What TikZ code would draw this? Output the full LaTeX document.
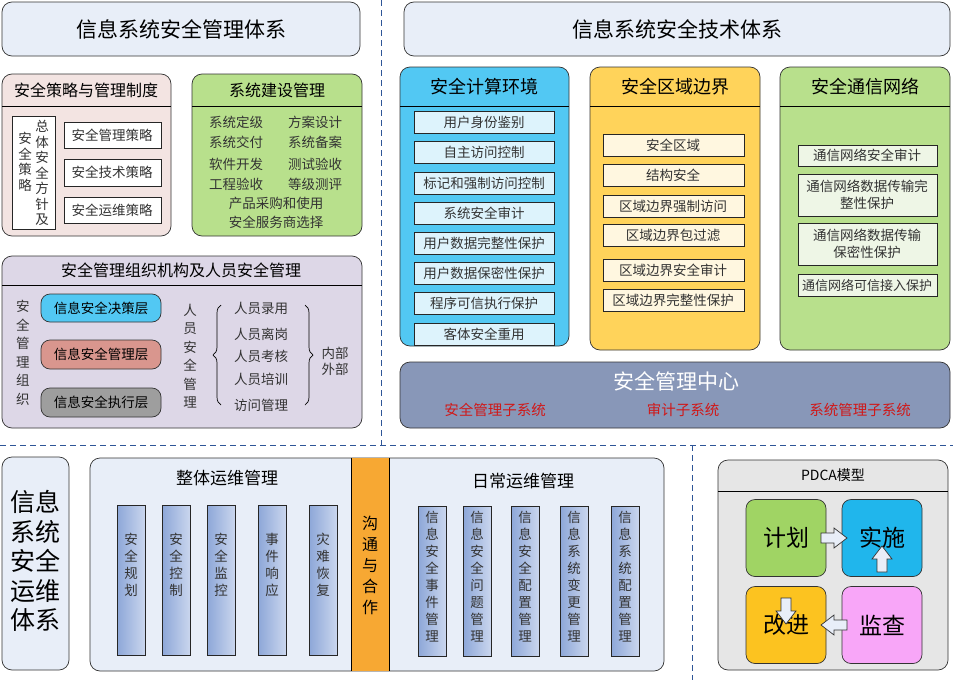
\documentclass[tikz,border=0pt]{standalone}
\usepackage{fontspec}
\setmainfont{Noto Sans CJK SC}
\usetikzlibrary{decorations.pathreplacing}
\definecolor{tbg}{HTML}{E8EEF8}
\definecolor{dline}{HTML}{2E5597}
\definecolor{pinkbg}{HTML}{F3E4E2}
\definecolor{grn}{HTML}{B8E08C}
\definecolor{lav}{HTML}{DDD7E7}
\definecolor{cy}{HTML}{52C8F3}
\definecolor{yl}{HTML}{FFD35A}
\definecolor{cyi}{HTML}{DDF3FC}
\definecolor{yli}{HTML}{FFF7E0}
\definecolor{gri}{HTML}{EEF6E6}
\definecolor{mgr}{HTML}{8897B8}
\definecolor{rd}{HTML}{D01818}
\definecolor{org}{HTML}{F7A833}
\definecolor{barL}{HTML}{8DA7D8}
\definecolor{barR}{HTML}{CAD6EE}
\definecolor{pdg}{HTML}{E6E6E6}
\begin{document}
\begin{tikzpicture}[x=1pt,y=-1pt,
  panel/.style={draw=black!80,line width=0.7pt,rounded corners=10pt},
  item/.style={draw=black!85,line width=0.7pt},
  t13/.style={font=\fontsize{13.5}{16}\selectfont,text=black!80},
  t15/.style={font=\fontsize{16}{19}\selectfont},
  vt/.style={font=\fontsize{13.5}{17}\selectfont,align=center,inner sep=0pt,text=black!80},
  bar/.style={draw=black!85,line width=0.7pt,left color=barL,right color=barR},
  pill/.style={draw=black!80,line width=0.7pt,rounded corners=9pt},
  pd/.style={draw=black!80,line width=0.7pt,rounded corners=9pt,minimum width=80pt,minimum height=77pt,font=\fontsize{23}{27}\selectfont},
  parrow/.pic={\path[draw=black!80,fill=tbg,line width=0.7pt] (0,-5) -- (13,-5) -- (13,-10) -- (26,0) -- (13,10) -- (13,5) -- (0,5) -- cycle;}]
\useasboundingbox (0,0) rectangle (953,680);
\fill[white] (0,0) rectangle (953,680);
% dashed separators
\draw[dline,line width=1pt,dash pattern=on 6pt off 4pt] (381,0) -- (381,445);
\draw[dline,line width=1pt,dash pattern=on 6pt off 4pt] (0,445) -- (953,445);
\draw[dline,line width=1pt,dash pattern=on 6pt off 4pt] (692,445) -- (692,680);
% titles
\draw[panel,fill=tbg] (2,2) rectangle (360,56);
\node[font=\fontsize{21}{25}\selectfont] (t1) at (181,29) {信息系统安全管理体系};
\draw[panel,fill=tbg] (404,2) rectangle (950,56);
\node[font=\fontsize{21}{25}\selectfont] (t2) at (677,29) {信息系统安全技术体系};
% policy box
\draw[panel,fill=pinkbg] (2,74) rectangle (171,236);
\draw[line width=0.7pt] (2,106) -- (171,106);
\node[t15] (p0) at (86,90) {安全策略与管理制度};
\draw[item,fill=white] (12,116) rectangle (55,229);
\node[vt,font=\fontsize{13.5}{15.5}\selectfont] (p1) at (42,173) {总\\体\\安\\全\\方\\针\\及};
\node[vt,font=\fontsize{13.5}{15.5}\selectfont] (p2) at (25,162) {安\\全\\策\\略};
\draw[item,fill=white] (64,122) rectangle (161,148);
\node[t13] (p3) at (112,135) {安全管理策略};
\draw[item,fill=white] (64,159) rectangle (161,186);
\node[t13] (p4) at (112,172) {安全技术策略};
\draw[item,fill=white] (64,197) rectangle (161,223);
\node[t13] (p5) at (112,210) {安全运维策略};
% construction
\draw[panel,fill=grn] (192,74) rectangle (362,236);
\draw[line width=0.7pt] (192,106) -- (362,106);
\node[t15] (c0) at (277,90) {系统建设管理};
\foreach \a/\b/\y [count=\i] in {系统定级/方案设计/122,系统交付/系统备案/142,软件开发/测试验收/164,工程验收/等级测评/184}{
  \node[t13] (ca\i) at (236,\y) {\a};
  \node[t13] (cb\i) at (315,\y) {\b};}
\node[t13] (c5) at (276,203) {产品采购和使用};
\node[t13] (c6) at (276,222) {安全服务商选择};
% org box
\draw[panel,fill=lav] (2,256) rectangle (362,428);
\draw[line width=0.7pt] (2,285) -- (362,285);
\node[t15] (o0) at (181,270) {安全管理组织机构及人员安全管理};
\node[vt,font=\fontsize{13.5}{18.5}\selectfont] (o1) at (23,353) {安\\全\\管\\理\\组\\织};
\draw[pill,fill=cy] (41,294) rectangle (161,322); \node[t13,text=black] (o2) at (101,308) {信息安全决策层};
\draw[pill,fill={rgb,255:red,217;green,150;blue,142}] (41,340) rectangle (161,369); \node[t13,text=black] (o3) at (101,354) {信息安全管理层};
\draw[pill,fill=black!38] (41,388) rectangle (161,417); \node[t13,text=black] (o4) at (101,402) {信息安全执行层};
\node[vt,font=\fontsize{13.5}{18.5}\selectfont] (o5) at (190,356) {人\\员\\安\\全\\管\\理};
\draw[decorate,decoration={brace,amplitude=8pt},line width=0.7pt] (221,405) -- (221,305);
\draw[decorate,decoration={brace,amplitude=8pt},line width=0.7pt] (305,305) -- (305,405);
\foreach \t/\y [count=\i] in {人员录用/308,人员离岗/334,人员考核/356,人员培训/379,访问管理/405}
  \node[t13] (op\i) at (261,\y) {\t};
\node[t13,align=center,font=\fontsize{13.5}{16}\selectfont] (o6) at (335,361) {内部\\外部};
% tech columns
\draw[panel,fill=cy] (400,67) rectangle (569,346);
\draw[line width=0.7pt] (400,106) -- (569,106);
\node[font=\fontsize{18}{21}\selectfont] (e0) at (484,87) {安全计算环境};
\foreach \t/\y [count=\i] in {用户身份鉴别/122,自主访问控制/152,标记和强制访问控制/183,系统安全审计/213,用户数据完整性保护/243,用户数据保密性保护/273,程序可信执行保护/303,客体安全重用/334}{
  \draw[item,fill=cyi] (414,\y-11) rectangle (554,\y+11);
  \node[t13] (e\i) at (484,\y) {\t};}
\draw[panel,fill=yl] (590,67) rectangle (760,350);
\draw[line width=0.7pt] (590,106) -- (760,106);
\node[font=\fontsize{18}{21}\selectfont] (b0) at (675,87) {安全区域边界};
\foreach \t/\y [count=\i] in {安全区域/145,结构安全/175,区域边界强制访问/206,区域边界包过滤/235,区域边界安全审计/270,区域边界完整性保护/300}{
  \draw[item,fill=yli] (603,\y-11) rectangle (744,\y+11);
  \node[t13] (b\i) at (673,\y) {\t};}
\draw[panel,fill=grn] (780,67) rectangle (950,350);
\draw[line width=0.7pt] (780,106) -- (950,106);
\node[font=\fontsize{18}{21}\selectfont] (n0) at (865,87) {安全通信网络};
\draw[item,fill=gri] (798,145) rectangle (937,166); \node[t13] (n1) at (867,155) {通信网络安全审计};
\draw[item,fill=gri] (798,174) rectangle (937,216); \node[t13,align=center,font=\fontsize{13.5}{17}\selectfont] (n2) at (867,195) {通信网络数据传输完\\整性保护};
\draw[item,fill=gri] (798,223) rectangle (937,265); \node[t13,align=center,font=\fontsize{13.5}{17}\selectfont] (n3) at (867,244) {通信网络数据传输\\保密性保护};
\draw[item,fill=gri] (798,274) rectangle (937,296); \node[t13,font=\fontsize{13}{16}\selectfont] (n4) at (867,285) {通信网络可信接入保护};
% mgmt center
\draw[panel,fill=mgr] (400,362) rectangle (950,428);
\node[font=\fontsize{21}{25}\selectfont,text=white] (m0) at (676,381) {安全管理中心};
\node[font=\fontsize{14.5}{17}\selectfont,text=rd] (m1) at (495,410) {安全管理子系统};
\node[font=\fontsize{14.5}{17}\selectfont,text=rd] (m2) at (683,410) {审计子系统};
\node[font=\fontsize{14.5}{17}\selectfont,text=rd] (m3) at (860,410) {系统管理子系统};
% ops
\draw[panel,fill=tbg] (2,457) rectangle (69,670);
\node[align=center,font=\fontsize{25}{29.5}\selectfont,inner sep=0] (s0) at (35,561) {信息\\系统\\安全\\运维\\体系};
\draw[panel,fill=tbg] (90,458) rectangle (664,671);
\fill[org] (351,458.35) rectangle (389,670.65);
\draw[line width=0.7pt] (351,458) -- (351,671) (389,458) -- (389,671);
\node[align=center,font=\fontsize{16}{21}\selectfont,inner sep=0] (s1) at (370,565) {沟\\通\\与\\合\\作};
\node[t15,font=\fontsize{17}{20}\selectfont] (s2) at (227,478) {整体运维管理};
\node[t15,font=\fontsize{17}{20}\selectfont] (s3) at (523,481) {日常运维管理};
\foreach \x/\t [count=\i] in {117/安\\全\\规\\划,162/安\\全\\控\\制,207/安\\全\\监\\控,258/事\\件\\响\\应,309/灾\\难\\恢\\复}{
  \draw[bar] (\x,505) rectangle (\x+28,655);
  \node[vt] (g\i) at (\x+14,565) {\t};}
\foreach \x/\t [count=\i] in {418/信\\息\\安\\全\\事\\件\\管\\理,463/信\\息\\安\\全\\问\\题\\管\\理,511/信\\息\\安\\全\\配\\置\\管\\理,560/信\\息\\系\\统\\变\\更\\管\\理,611/信\\息\\系\\统\\配\\置\\管\\理}{
  \draw[bar] (\x,506) rectangle (\x+28,656);
  \node[vt] (h\i) at (\x+14,577) {\t};}
% PDCA
\draw[panel,fill=pdg] (718,460) rectangle (948,670);
\draw[line width=0.7pt] (718,491) -- (948,491);
\node[font=\fontsize{14}{17}\selectfont] (q0) at (833,475) {PDCA模型};
\node[pd,fill={rgb,255:red,160;green,212;blue,100}] (plan) at (786,538) {计划};
\node[pd,fill={rgb,255:red,32;green,182;blue,236}] (do) at (882,538) {实施};
\node[pd,fill={rgb,255:red,252;green,195;blue,32}] (act) at (786,625) {改进};
\node[pd,fill={rgb,255:red,248;green,166;blue,248}] (chk) at (882,625) {监查};
\pic at (821,538) {parrow};
\pic[rotate=90] at (882,572) {parrow};
\pic[rotate=180] at (847,625) {parrow};
\pic[rotate=-90] at (786,598) {parrow};
\end{tikzpicture}
\end{document}
